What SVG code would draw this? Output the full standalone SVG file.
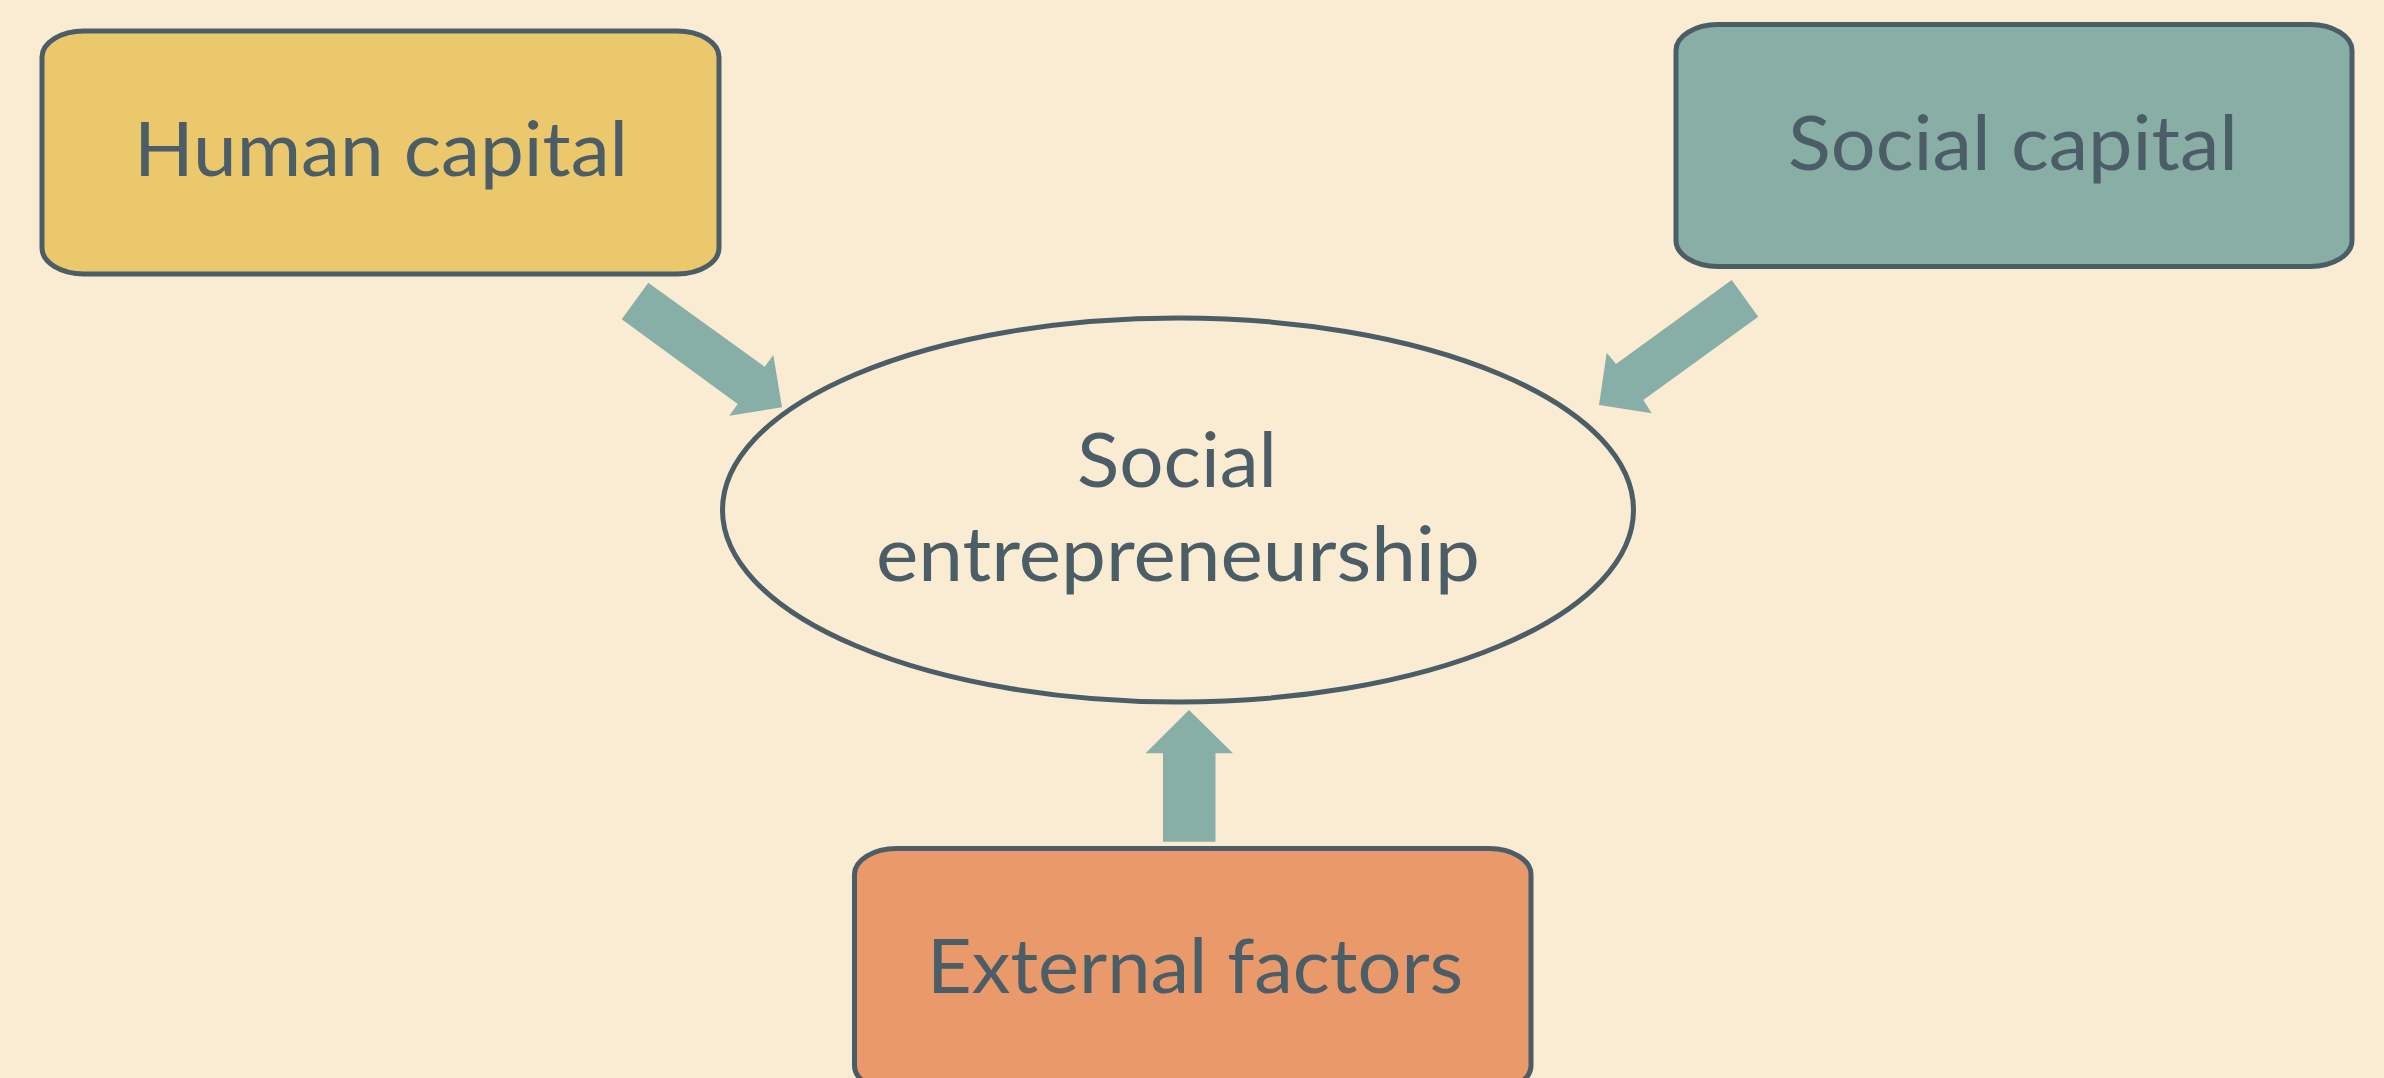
<svg xmlns="http://www.w3.org/2000/svg" width="2384" height="1078" viewBox="0 0 2384 1078">
  <style>
    .box { stroke: #4b5d66; stroke-width: 5; }
    .label { font-family: Lato, "Open Sans", "Liberation Sans", sans-serif; font-size: 75px; fill: #4b5d66; text-anchor: middle; }
    .arrow { fill: #88afa7; }
  </style>
  <rect width="2384" height="1078" fill="#faecd2"/>

  <g id="connectors">
    <polygon class="arrow" points="648.3,282.7 764.7,366.7 773.3,355 782,407.3 729.3,415.7 737.7,404 621.7,319.3"/>
    <polygon class="arrow" points="1731.7,280 1758.3,316.7 1643.3,400 1651.7,413.3 1599,405 1606.7,352.7 1616,364"/>
    <polygon class="arrow" points="1189,710 1233,753.3 1215.5,753.3 1215.5,841.7 1163,841.7 1163,753.3 1145.6,753.3"/>
  </g>

  <g id="human-capital">
    <rect class="box" x="42" y="31" width="677" height="243" rx="42" ry="26" fill="#ebc86b"/>
    <text class="label" x="381" y="176" textLength="494" lengthAdjust="spacingAndGlyphs">Human capital</text>
  </g>

  <g id="social-capital">
    <rect class="box" x="1676" y="24.5" width="676" height="242" rx="42" ry="26" fill="#88aea6"/>
    <text class="label" x="2013" y="170" textLength="450" lengthAdjust="spacingAndGlyphs">Social capital</text>
  </g>

  <g id="social-entrepreneurship">
    <ellipse class="box" cx="1178" cy="510" rx="455.5" ry="192" fill="#faecd2"/>
    <text class="label" x="1177" y="487" textLength="200" lengthAdjust="spacingAndGlyphs">Social</text>
    <text class="label" x="1178" y="581" textLength="604" lengthAdjust="spacingAndGlyphs">entrepreneurship</text>
  </g>

  <g id="external-factors">
    <rect class="box" x="854.5" y="848.5" width="676.5" height="243" rx="42" ry="26" fill="#e9996a"/>
    <text class="label" x="1195" y="993" textLength="536" lengthAdjust="spacingAndGlyphs">External factors</text>
  </g>
</svg>
